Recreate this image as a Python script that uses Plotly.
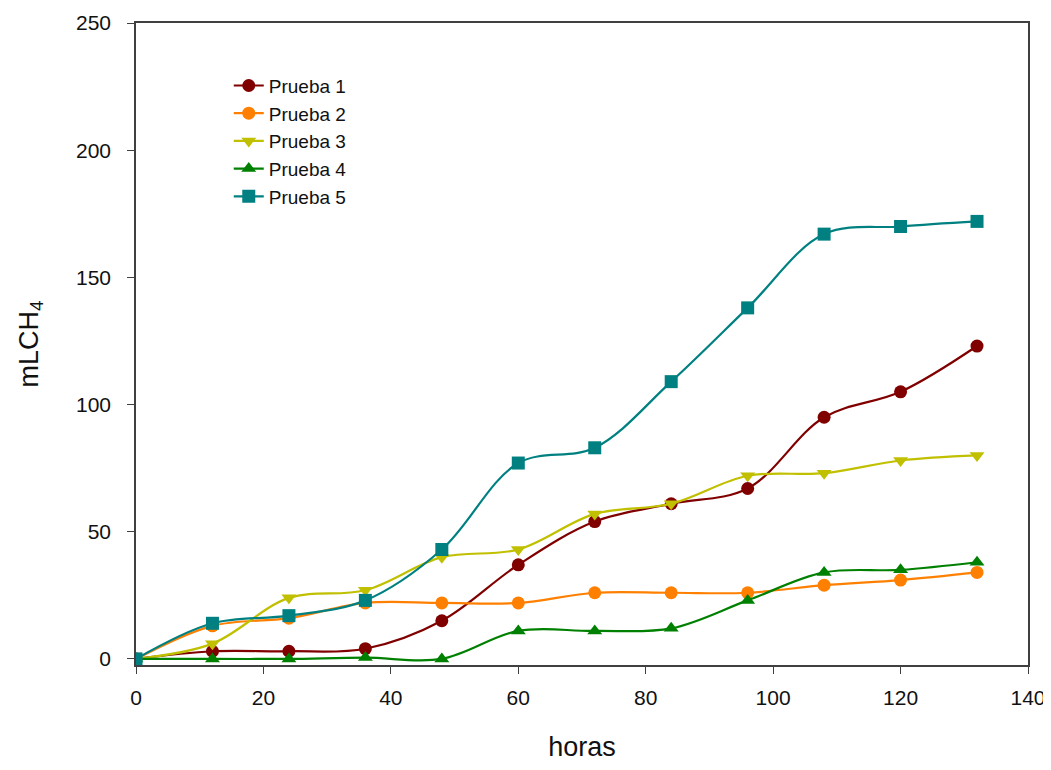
import plotly.graph_objects as go

horas = [0, 12, 24, 36, 48, 60, 72, 84, 96, 108, 120, 132]
prueba1 = [0, 3, 3, 4, 15, 37, 54, 61, 67, 95, 105, 123]
prueba2 = [0, 13, 16, 22, 22, 22, 26, 26, 26, 29, 31, 34]
prueba3 = [0, 6, 24, 27, 40, 43, 57, 61, 72, 73, 78, 80]
prueba4 = [0, 0, 0, 0.5, 0, 11, 11, 12, 23, 34, 35, 38]
prueba5 = [0, 14, 17, 23, 43, 77, 83, 109, 138, 167, 170, 172]

names = ["Prueba 1", "Prueba 2", "Prueba 3", "Prueba 4", "Prueba 5"]
series = [prueba1, prueba2, prueba3, prueba4, prueba5]
colors = ["#800000", "#FF8000", "#C0C000", "#008000", "#008080"]
symbols = ["circle", "circle", "triangle-down", "triangle-up", "square"]

fig = go.Figure()
for name, ys, c, s in zip(names, series, colors, symbols):
    fig.add_trace(go.Scatter(
        x=horas, y=ys, name=name, mode="lines+markers",
        line=dict(color=c, width=2.2, shape="spline", smoothing=1.0),
        marker=dict(color=c, symbol=s, size=13),
    ))

axis_common = dict(
    showgrid=False, zeroline=False, showline=True, linecolor="#404040",
    linewidth=1.6, mirror=True, ticks="outside", ticklen=7, tickwidth=1.2,
    tickcolor="#404040", automargin=False,
    tickfont=dict(family="Arial, Liberation Sans", size=21, color="#111111"),
)

fig.update_layout(
    width=1043, height=754,
    margin=dict(l=128, r=23, t=15, b=97),
    paper_bgcolor="white", plot_bgcolor="white",
    font=dict(family="Arial, Liberation Sans", color="#111111"),
    xaxis=dict(range=[0, 140], tickmode="linear", tick0=0, dtick=20,
               ticklabelstandoff=6,
               title=dict(text="horas", font=dict(size=27), standoff=38), **axis_common),
    yaxis=dict(range=[-2.4, 250], tickmode="linear", tick0=0, dtick=50,
               ticklabelstandoff=12,
               title=dict(text="mLCH<sub>4</sub>", font=dict(size=27), standoff=30), **axis_common),
    legend=dict(x=0.104, y=0.932, xanchor="left", yanchor="top",
                bgcolor="rgba(0,0,0,0)", font=dict(size=19), tracegroupgap=0),
    showlegend=True,
)

fig.write_html("out.html")
